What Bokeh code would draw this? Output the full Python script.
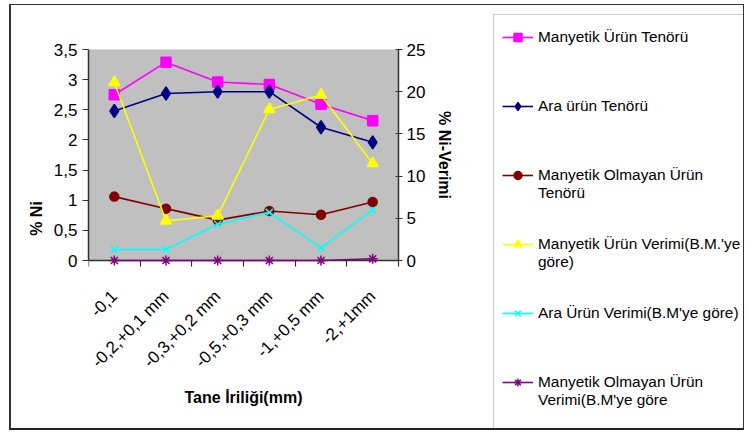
import numpy as np
from math import pi
from bokeh.plotting import figure
from bokeh.models import (Range1d, LinearAxis, FixedTicker, CustomJSTickFormatter,
                          Legend, LegendItem, BoxAnnotation)
from bokeh.embed import file_html
from bokeh.resources import INLINE

# particle size classes
sizes = ["-0,1", "-0,2,+0,1 mm", "-0,3,+0,2 mm", "-0,5,+0,3 mm", "-1,+0,5 mm", "-2,+1mm"]

# grades (% Ni, left axis)
mag_tenor = [2.75, 3.29, 2.96, 2.92, 2.59, 2.32]
ara_tenor = [2.48, 2.77, 2.80, 2.80, 2.21, 1.96]
nonmag_tenor = [1.06, 0.86, 0.67, 0.82, 0.76, 0.97]

# recoveries (% Ni-Verimi, right axis)
mag_verim = [21.1, 4.7, 5.3, 17.9, 19.6, 11.5]
ara_verim = [1.3, 1.3, 4.3, 5.7, 1.5, 6.0]
nonmag_verim = [0.0, 0.0, 0.0, 0.0, 0.0, 0.2]

ni_ticks = [0, 0.5, 1, 1.5, 2, 2.5, 3, 3.5]
verim_ticks = [0, 5, 10, 15, 20, 25]
NI_MAX, VERIM_MAX = 3.5, 25

# legend entries: first and second text line
label_lines = [
    ("Manyetik Ürün Tenörü", ""),
    ("Ara ürün Tenörü", ""),
    ("Manyetik Olmayan Ürün", "Tenörü"),
    ("Manyetik Ürün Verimi(B.M.'ye", "göre)"),
    ("Ara Ürün Verimi(B.M'ye göre)", ""),
    ("Manyetik Olmayan Ürün", "Verimi(B.M'ye göre"),
]
# the legend centres its symbol on the text block, so each entry gets a
# blank line above and below the first line to keep the symbol on that line
labels = [" \n" + a + "\n" + (b or " ") for a, b in label_lines]

FONT = "Liberation Sans"
AXIS_COLOR = "#333333"

# canvas layout (pixels): the frame spans the plot area plus the legend column,
# the gray plot area is only its upper-left part
W, H = 735, 426
FRAME_L, FRAME_T = 77, 0
AREA_W, AREA_TOP, AREA_BOT = 310, 44, 255
LEG_L, LEG_T = 482, 9
frame_w, frame_h = W - FRAME_L, H - FRAME_T
n = len(sizes)
px_x = AREA_W / n
px_y = (AREA_BOT - AREA_TOP) / NI_MAX
y_lo = -(H - AREA_BOT) / px_y
y_hi = NI_MAX + (AREA_TOP - FRAME_T) / px_y
k = VERIM_MAX / NI_MAX

xs = np.arange(n) + 0.5

p = figure(width=W, height=H, x_range=Range1d(0, frame_w / px_x), y_range=Range1d(y_lo, y_hi),
           x_axis_type=None, y_axis_type=None, output_backend="svg", toolbar_location=None,
           min_border_left=FRAME_L, min_border_right=0, min_border_top=FRAME_T, min_border_bottom=0,
           background_fill_color="white", border_fill_color="white", outline_line_color=None,
           margin=(4, 0, 0, 9))
p.styles = {"border-left": "2px solid #333", "border-top": "1px solid #333",
            "border-bottom": "2px solid #222", "border-right": "1px solid #333"}
p.extra_y_ranges = {"verim": Range1d(y_lo * k, y_hi * k)}
p.xgrid.visible = False
p.ygrid.visible = False

# gray plot area
p.add_layout(BoxAnnotation(left=0, right=n, bottom=0, top=NI_MAX, fill_color="#C0C0C0",
                           fill_alpha=1.0, line_color=None, level="underlay"))
# legend frame, running to the right and bottom edges
p.add_layout(BoxAnnotation(left=(LEG_L - FRAME_L) / px_x, top=NI_MAX + (AREA_TOP - LEG_T) / px_y,
                           fill_color="white", fill_alpha=1.0, line_color="#555555",
                           line_width=1.2, level="underlay"))

def style_axis(ax):
    ax.axis_line_color = AXIS_COLOR
    ax.axis_line_width = 1.5
    ax.major_tick_line_color = AXIS_COLOR
    ax.major_tick_line_width = 1.2
    ax.major_label_text_font = FONT
    ax.major_label_text_font_size = "17px"
    ax.major_label_text_color = "black"
    ax.axis_label_text_font = FONT
    ax.axis_label_text_font_style = "bold"
    ax.axis_label_text_font_size = "16px"
    ax.axis_label_text_color = "black"

comma = CustomJSTickFormatter(code="return tick.toString().replace('.', ',')")

left = LinearAxis(ticker=FixedTicker(ticks=ni_ticks, minor_ticks=[]), formatter=comma,
                  bounds=(0, NI_MAX), axis_label="% Ni")
style_axis(left)
left.major_tick_in = 0
left.major_tick_out = 6
left.major_label_standoff = 5
left.axis_label_standoff = 6
p.add_layout(left, "left")

right = LinearAxis(y_range_name="verim", ticker=FixedTicker(ticks=verim_ticks, minor_ticks=[]),
                   bounds=(0, VERIM_MAX), fixed_location=n, axis_label="% Ni-Verimi")
style_axis(right)
right.major_tick_in = 3
right.major_tick_out = 4
right.major_label_standoff = 4
right.axis_label_standoff = 8
p.add_layout(right, "right")

bottom = LinearAxis(ticker=FixedTicker(ticks=list(xs), minor_ticks=list(range(n + 1))),
                    major_label_overrides={float(x): s for x, s in zip(xs, sizes)},
                    bounds=(0, n), fixed_location=0, axis_label="Tane İriliği(mm)",
                    major_label_orientation=pi / 4)
style_axis(bottom)
bottom.major_tick_line_color = None
bottom.minor_tick_line_color = AXIS_COLOR
bottom.minor_tick_line_width = 1.2
bottom.minor_tick_in = 0
bottom.minor_tick_out = 6
bottom.major_label_standoff = 27
bottom.axis_label_standoff = 8
p.add_layout(bottom, "below")

series = [
    (mag_tenor, "default", "#FF00FF", "square", 10),
    (ara_tenor, "default", "#000080", "diamond", 13),
    (nonmag_tenor, "default", "#800000", "circle", 9),
    (mag_verim, "verim", "#FFFF00", "triangle", 11),
    (ara_verim, "verim", "#00FFFF", "x", 10),
    (nonmag_verim, "verim", "#800080", "asterisk", 10),
]

items = []
for (vals, rng, color, marker, size), label in zip(series, labels):
    ln = p.line(xs, vals, y_range_name=rng, line_color=color, line_width=1.6, level="overlay")
    sc = p.scatter(xs, vals, y_range_name=rng, marker=marker, size=size, fill_color=color,
                   line_color=color, line_width=1.5, level="overlay")
    items.append(LegendItem(label=label, renderers=[ln, sc]))

legend = Legend(items=items, location=(414, 22), orientation="vertical",
                border_line_color=None, background_fill_alpha=0.0,
                label_text_font=FONT, label_text_font_size="15.4px", label_text_color="black",
                glyph_width=31, glyph_height=20, label_standoff=5, padding=0, spacing=15,
                margin=0)
p.add_layout(legend, "center")

open("out.html", "w").write(file_html(p, INLINE))
